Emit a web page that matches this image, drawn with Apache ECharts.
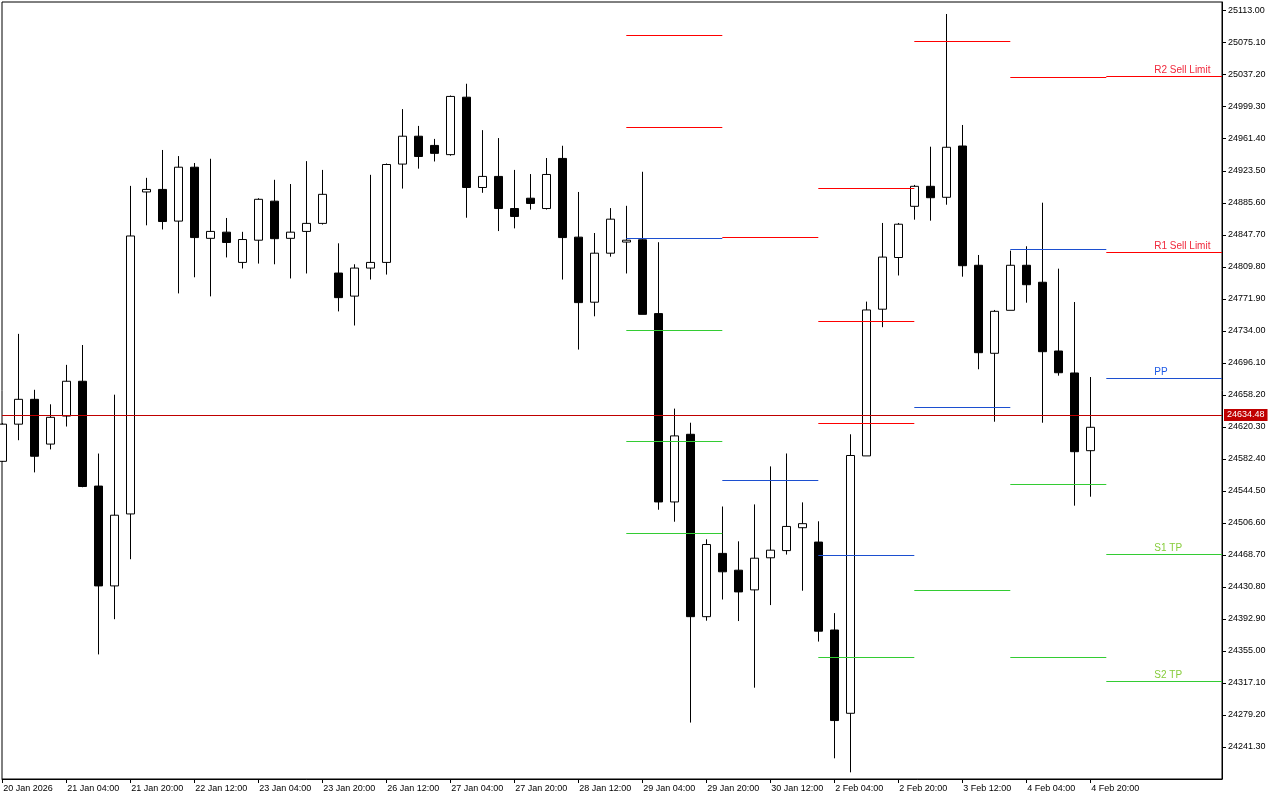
<!DOCTYPE html>
<html><head><meta charset="utf-8">
<script src="https://cdn.jsdelivr.net/npm/echarts@6/dist/echarts.min.js"></script>
<style>html,body{margin:0;padding:0;background:#fff}#c{width:1280px;height:800px}</style>
</head><body><div id="c"></div>
<script>
// ---- DATA ----
const categories = [
 '2026.01.20 12:00','2026.01.20 16:00','2026.01.20 20:00',
 '2026.01.21 00:00','2026.01.21 04:00','2026.01.21 08:00','2026.01.21 12:00','2026.01.21 16:00','2026.01.21 20:00',
 '2026.01.22 00:00','2026.01.22 04:00','2026.01.22 08:00','2026.01.22 12:00','2026.01.22 16:00','2026.01.22 20:00',
 '2026.01.23 00:00','2026.01.23 04:00','2026.01.23 08:00','2026.01.23 12:00','2026.01.23 16:00','2026.01.23 20:00',
 '2026.01.26 00:00','2026.01.26 04:00','2026.01.26 08:00','2026.01.26 12:00','2026.01.26 16:00','2026.01.26 20:00',
 '2026.01.27 00:00','2026.01.27 04:00','2026.01.27 08:00','2026.01.27 12:00','2026.01.27 16:00','2026.01.27 20:00',
 '2026.01.28 00:00','2026.01.28 04:00','2026.01.28 08:00','2026.01.28 12:00','2026.01.28 16:00','2026.01.28 20:00',
 '2026.01.29 00:00','2026.01.29 04:00','2026.01.29 08:00','2026.01.29 12:00','2026.01.29 16:00','2026.01.29 20:00',
 '2026.01.30 00:00','2026.01.30 04:00','2026.01.30 08:00','2026.01.30 12:00','2026.01.30 16:00','2026.01.30 20:00',
 '2026.02.02 00:00','2026.02.02 04:00','2026.02.02 08:00','2026.02.02 12:00','2026.02.02 16:00','2026.02.02 20:00',
 '2026.02.03 00:00','2026.02.03 04:00','2026.02.03 08:00','2026.02.03 12:00','2026.02.03 16:00','2026.02.03 20:00',
 '2026.02.04 00:00','2026.02.04 04:00','2026.02.04 08:00','2026.02.04 12:00','2026.02.04 16:00','2026.02.04 20:00'
];
const opens = [24579.5,24623.5,24652.9,24599.9,24633.1,24674.3,24550.2,24432.0,24517.2,24898.4,
 24901.4,24863.9,24927.7,24843.5,24850.8,24815.0,24841.3,24887.5,24843.5,24851.7,
 24861.2,24802.4,24775.1,24808.3,24815.0,24931.4,24964.4,24953.5,24942.6,25010.6,
 24903.7,24916.8,24878.8,24891.0,24878.8,24938.1,24844.9,24767.9,24825.9,24839.1,
 24841.8,24754.4,24531.4,24611.5,24395.6,24470.5,24450.6,24427.3,24465.3,24473.8,
 24500.9,24483.9,24379.8,24281.2,24585.9,24759.6,24820.8,24881.4,24905.1,24892.1,
 24952.8,24811.6,24707.4,24758.3,24811.6,24791.5,24710.1,24684.1,24592.1];
const closes = [24623.5,24652.9,24585.5,24631.6,24674.3,24549.7,24432.0,24515.7,24846.3,24901.4,
 24863.4,24927.7,24844.4,24851.7,24838.6,24842.1,24889.7,24843.1,24850.8,24861.2,
 24895.6,24773.3,24808.3,24815.0,24930.9,24964.4,24940.4,24944.1,25011.5,24903.7,
 24916.8,24878.8,24869.4,24884.8,24919.1,24844.4,24767.4,24825.9,24866.2,24841.3,
 24753.5,24531.4,24609.6,24395.6,24481.0,24448.7,24424.9,24464.8,24474.3,24502.4,
 24505.7,24378.4,24272.6,24586.4,24758.7,24821.3,24860.2,24905.1,24891.6,24951.3,
 24811.1,24708.1,24757.1,24811.6,24788.6,24709.3,24684.4,24590.9,24619.8];
const highs = [24624.9,24730.4,24664.2,24647.0,24693.7,24717.2,24588.7,24658.4,24905.6,24915.1,
 24948.1,24940.9,24932.7,24937.7,24867.6,24851.2,24891.0,24912.8,24907.8,24934.9,
 24924.5,24837.6,24812.8,24918.7,24932.1,24996.5,24976.6,24961.2,25012.6,25026.5,
 24971.6,24962.2,24924.5,24919.6,24938.6,24953.1,24898.4,24849.8,24879.3,24882.0,
 24922.3,24838.9,24641.9,24625.2,24487.2,24526.0,24484.8,24528.5,24573.5,24588.8,
 24530.9,24508.5,24399.8,24611.5,24768.6,24861.7,24861.7,24906.7,24952.0,25109.1,
 24977.7,24823.8,24758.7,24828.9,24834.1,24885.7,24807.6,24768.1,24679.3];
const lows = [24578.7,24604.5,24566.4,24593.6,24620.7,24548.8,24350.9,24392.6,24463.6,24858.9,
 24854.0,24778.3,24797.4,24774.8,24820.9,24807.8,24813.6,24812.8,24796.0,24801.9,
 24859.8,24757.0,24740.3,24794.7,24800.6,24902.4,24926.0,24934.5,24941.3,24867.9,
 24897.4,24852.1,24855.3,24877.5,24877.6,24794.7,24711.8,24751.2,24821.8,24801.9,
 24753.5,24522.2,24508.0,24270.2,24390.8,24415.9,24390.4,24311.5,24409.3,24469.1,
 24426.3,24366.1,24227.9,24211.3,24585.9,24738.3,24799.5,24865.6,24864.4,24883.3,
 24798.1,24688.5,24626.4,24758.3,24767.3,24625.2,24680.9,24527.0,24537.6];

const tickIndex = [0,4,8,12,16,20,24,28,32,36,40,44,48,52,56,60,64,68];
const tickLabels = ['20 Jan 2026','21 Jan 04:00','21 Jan 20:00','22 Jan 12:00','23 Jan 04:00','23 Jan 20:00',
 '26 Jan 12:00','27 Jan 04:00','27 Jan 20:00','28 Jan 12:00','29 Jan 04:00','29 Jan 20:00',
 '30 Jan 12:00','2 Feb 04:00','2 Feb 20:00','3 Feb 12:00','4 Feb 04:00','4 Feb 20:00'];
const priceTicks = [25113.00,25075.10,25037.20,24999.30,24961.40,24923.50,24885.60,24847.70,
 24809.80,24771.90,24734.00,24696.10,24658.20,24620.30,24582.40,24544.50,24506.60,24468.70,
 24430.80,24392.90,24355.00,24317.10,24279.20,24241.30];
const bidPrice = 24634.48;

// pivot level segments: start bar, end bar (null = to the right edge), price, kind, text
const levelStart = [39,39,39,39,39,39, 45,45, 51,51,51,51,51, 57,57,57, 63,63,63,63, 69,69,69,69,69];
const levelEnd   = [45,45,45,45,45,45, 51,51, 57,57,57,57,57, 63,63,63, 69,69,69,69, null,null,null,null,null];
const levelPrice = [25083.9,24975.3,24843.5,24734.9,24603.6,24494.7,
 24844.7,24557.0,
 24902.6,24745.4,24624.5,24468.6,24347.8,
 25076.8,24643.8,24427.2,
 25034.2,24830.5,24552.3,24347.8,
 25035.3,24827.0,24677.8,24469.4,24319.1];
const levelKind  = ['R','R','P','S','S','S', 'R','P', 'R','R','R','P','S', 'R','P','S', 'R','P','S','S', 'R','R','P','S','S'];
const levelText  = ['','','','','','', '','', '','','','','', '','','', '','','','', 'R2 Sell Limit','R1 Sell Limit','PP','S1 TP','S2 TP'];

// ---- STYLE ----
const FONT = 'Liberation Sans';
const lineColor = {R:'#ff0000', P:'#1c4fd0', S:'#33cc33'};
const textColor = {R:'#f0283c', P:'#1e5ae6', S:'#86cc3a'};
const X_MIN = -0.019, X_MAX = 76.231;

const candles = opens.map((o,i)=>[o, closes[i], lows[i], highs[i]]);

const levelLines = levelPrice.map((p,k)=>[
  {coord:[levelStart[k], p],
   lineStyle:{color:lineColor[levelKind[k]], width:1, type:'solid'},
   label: levelText[k] ? {show:true, position:'insideStartTop', formatter: levelText[k],
       distance:[48,1], color:textColor[levelKind[k]], fontFamily:FONT, fontSize:10} : {show:false}},
  {coord:[levelEnd[k]===null ? X_MAX : levelEnd[k], p]}
]);

const chart = echarts.init(document.getElementById('c'), null, {renderer:'canvas'});
chart.setOption({
  animation:false,
  backgroundColor:'#ffffff',
  grid:{left:2, top:2, right:58, bottom:21, show:true, borderColor:'#000', borderWidth:1, backgroundColor:'#fff'},
  xAxis:{
    type:'value', min:X_MIN, max:X_MAX, position:'bottom',
    axisLine:{show:true, onZero:false, lineStyle:{color:'#000', width:1}},
    axisTick:{show:true, customValues:tickIndex, length:4, lineStyle:{color:'#000'}},
    axisLabel:{show:true, customValues:tickIndex, align:'left', margin:5, padding:[0,0,0,1],
      color:'#000', fontFamily:FONT, fontSize:9,
      formatter:(v)=>{const j=tickIndex.indexOf(Math.round(v)); return j>=0?tickLabels[j]:'';}},
    splitLine:{show:false}
  },
  yAxis:{
    type:'value', min:24203.4, max:25123.3, position:'right', scale:true,
    axisLine:{show:true, onZero:false, lineStyle:{color:'#000', width:1}},
    axisTick:{show:true, customValues:priceTicks, length:4, lineStyle:{color:'#000'}},
    axisLabel:{show:true, customValues:priceTicks, margin:6, color:'#000', fontFamily:FONT, fontSize:9,
      formatter:(v)=>v.toFixed(2)},
    splitLine:{show:false}
  },
  series:[{
    type:'candlestick',
    data: candles.map((c,i)=>[i].concat(c)),
    encode:{x:0, y:[1,2,3,4]},
    barWidth:9,
    clip:true,
    itemStyle:{color:'#ffffff', color0:'#000000', borderColor:'#000000', borderColor0:'#000000', borderWidth:1},
    markLine:{
      silent:true, symbol:['none','none'], animation:false, precision:2,
      data: levelLines.concat([
        {yAxis:bidPrice, lineStyle:{color:'#c00000', width:1, type:'solid'},
         label:{show:true, position:'end', distance:2, formatter:bidPrice.toFixed(2),
           backgroundColor:'#c00000', color:'#ffffff', padding:[2,3,1,3], fontFamily:FONT, fontSize:9}}
      ])
    }
  }]
});
</script></body></html>
